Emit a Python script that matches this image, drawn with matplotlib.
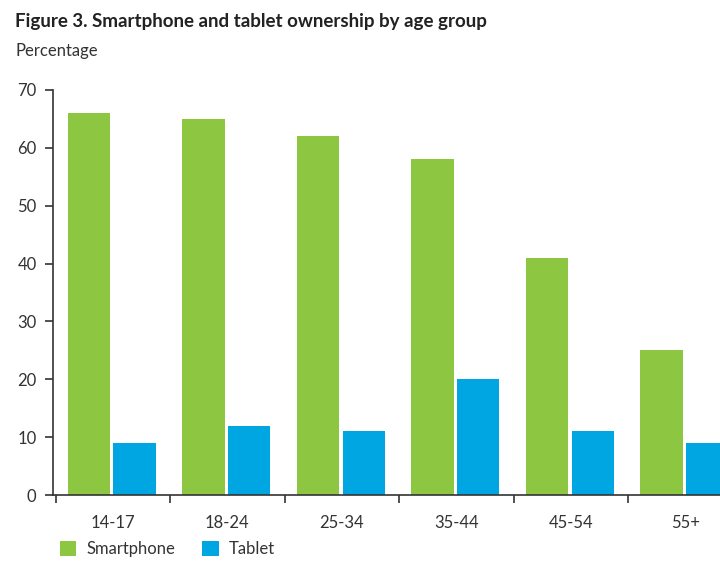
import numpy as np
import matplotlib.pyplot as plt

plt.rcParams['font.family'] = ['Lato', 'DejaVu Sans']

groups = ['14-17', '18-24', '25-34', '35-44', '45-54', '55+']
smartphone = [66, 65, 62, 58, 41, 25]
tablet = [9, 12, 11, 20, 11, 9]

green = '#8dc641'
blue = '#00a6e2'
dark = '#333333'

fig = plt.figure(figsize=(7.2, 5.62), dpi=100)
ax = fig.add_axes([0.074, 0.119, 0.926, 0.721])

x = np.arange(len(groups))
w = 0.37
ax.bar(x - 0.21, smartphone, w, color=green, label='Smartphone')
ax.bar(x + 0.19, tablet, w, color=blue, label='Tablet')

ax.set_yticks(range(0, 71, 10))
ax.tick_params(axis='y', labelsize=12, colors=dark, length=6, width=1.2, pad=6)

# group labels centred, tick marks on the boundaries
ax.set_xticks(x)
ax.set_xticklabels(groups, fontsize=12, color=dark)
ax.tick_params(axis='x', length=0, pad=14)
ax.set_xticks(np.arange(-0.5, 5.6, 1), minor=True)
ax.tick_params(axis='x', which='minor', length=6, width=1.2, color=dark, direction='out')

# limits after the ticks, the chart is cut off on the right like the original
ax.set_ylim(0, 70)
ax.set_xlim(-0.52, 5.3)

for s in ['top', 'right']:
    ax.spines[s].set_visible(False)
for s in ['left', 'bottom']:
    ax.spines[s].set_color(dark)
    ax.spines[s].set_linewidth(1.2)

fig.text(0.021, 0.962, 'Figure 3. Smartphone and tablet ownership by age group',
         fontsize=13.5, fontweight='bold', color='#222222', va='center')
fig.text(0.021, 0.91, 'Percentage', fontsize=12, color=dark, va='center')

fig.legend(loc='lower left', bbox_to_anchor=(0.062, -0.018), ncol=2, frameon=False,
           fontsize=12, handlelength=1.0, handleheight=1.0, columnspacing=1.6,
           handletextpad=0.6, labelcolor=dark)

fig.savefig('out.png', dpi=100)
